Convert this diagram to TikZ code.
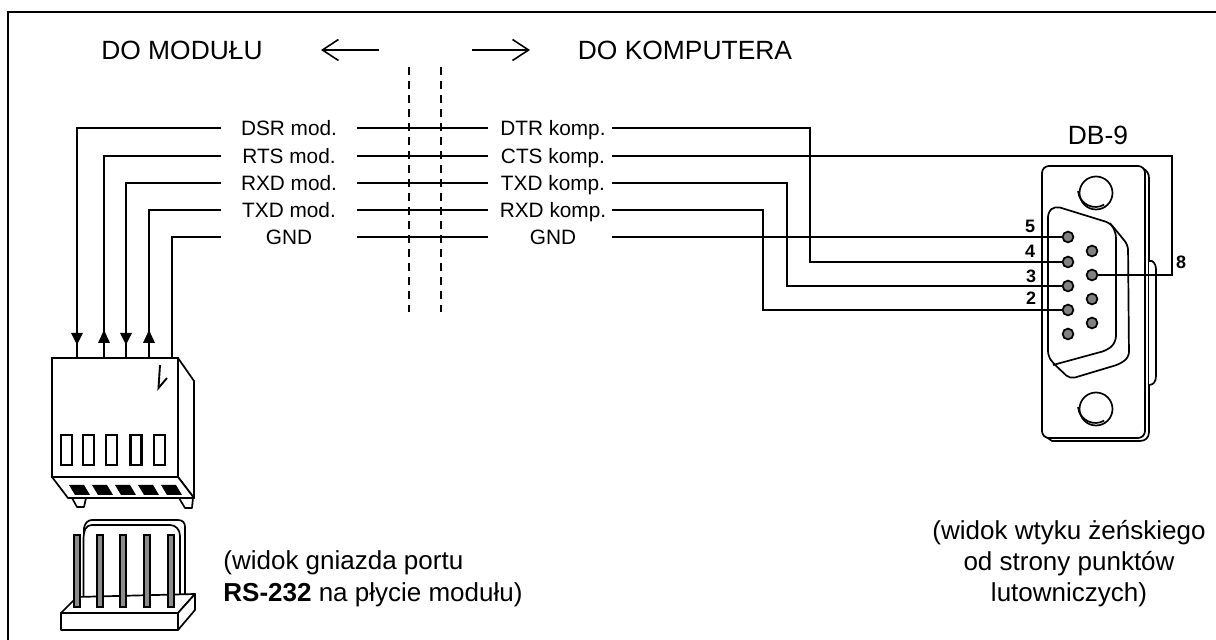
\documentclass[tikz,border=0pt]{standalone}
\usepackage{fontspec}
\setmainfont{Liberation Sans}
\usetikzlibrary{arrows.meta}
\tikzset{
  wire/.style={line width=0.8pt,line join=miter},
  lbl/.style={inner sep=0pt,text height=7.5pt,text depth=0pt,font=\fontsize{10.4}{12}\selectfont,anchor=center},
  big/.style={inner sep=0pt,font=\fontsize{13.2}{15}\selectfont},
  note/.style={inner sep=0pt,font=\fontsize{13}{15.5}\selectfont},
  num/.style={inner sep=0pt,font=\fontsize{9}{10}\selectfont\bfseries},
  pin/.style={circle,draw,line width=0.85pt,fill=black!50,inner sep=0pt,minimum size=5.4pt},
  part/.style={draw,line width=0.85pt,line join=round,fill=white},
  hpin/.style={draw,line width=0.75pt,fill=black!45},
  barb/.style={wire,-{Straight Barb[length=8pt,width=10.5pt]}}
}
\begin{document}
\begin{tikzpicture}[x=0.5pt,y=-0.5pt]
\useasboundingbox (0,0) rectangle (1216,640);
\draw[line width=1.1pt] (8,640) -- (8,12) -- (1216,12);
\node[big] (tmod) at (182,50) {DO MODUŁU};
\node[big] (tkomp) at (685,50) {DO KOMPUTERA};
\coordinate (al1) at (379,50); \coordinate (al2) at (321,50);
\coordinate (ar1) at (472,50); \coordinate (ar2) at (530,50);
\draw[barb] (al1) -- (al2);
\draw[barb] (ar1) -- (ar2);
\coordinate (d1a) at (409,67); \coordinate (d1b) at (409,312);
\coordinate (d2a) at (441,67); \coordinate (d2b) at (441,312);
\draw[line width=0.7pt,dash pattern=on 4pt off 3pt] (d1a) -- (d1b);
\draw[line width=0.7pt,dash pattern=on 4pt off 3pt] (d2a) -- (d2b);
% labels
\foreach \n/\y/\a/\b in {1/128/DSR mod./DTR komp.,2/156/RTS mod./CTS komp.,3/183/RXD mod./TXD komp.,4/210/TXD mod./RXD komp.,5/237/GND/GND}{
  \node[lbl] (m\n) at (289,\y) {\a};
  \node[lbl] (k\n) at (553,\y) {\b};
  \draw[wire] ([xshift=34pt]m\n.center) -- ([xshift=-32.5pt]k\n.center);
}
% module connector
\draw[part] (178,358) -- (194,381) -- (194,498) -- (178,477) -- cycle;
\draw[part] (72,498) -- (77,507) -- (84,507) -- (86,498);
\draw[part] (179,498) -- (185,508) -- (192,508) -- (193,498);
\draw[part] (52,477) -- (68,498) -- (194,498) -- (178,477) -- cycle;
\node[draw,line width=0.9pt,fill=white,minimum width=63pt,minimum height=59.5pt,inner sep=0pt] (conn) at (115,417.5) {};
\foreach \x in {66.5,88.5,111.5,136,159.5}{\draw[line width=1.1pt] (\x-5.5,435) rectangle (\x+5.5,465);}
\foreach \x in {69,92,115,138,161}{\fill (\x,485) -- (\x+15,485) -- (\x+21,495) -- (\x+6,495) -- cycle;}
\draw[line width=0.95pt] (160,365) -- (158.5,388) -- (167,378);
% left wires
\coordinate (w1) at (77,358); \coordinate (w2) at (104,358); \coordinate (w3) at (126,358);
\coordinate (w4) at (149,358); \coordinate (w5) at (172,358);
\draw[wire] ([xshift=-34pt]m1.center) -| (w1);
\draw[wire] ([xshift=-34pt]m2.center) -| (w2);
\draw[wire] ([xshift=-34pt]m3.center) -| (w3);
\draw[wire] ([xshift=-34pt]m4.center) -| (w4);
\draw[wire] ([xshift=-34pt]m5.center) -| (w5);
\foreach \x in {77,126}{\fill (\x-6,333) -- (\x+6,333) -- (\x,345) -- cycle;}
\foreach \x in {104,149}{\fill (\x-6,343) -- (\x+6,343) -- (\x,330) -- cycle;}
% header
\draw[part] (84,600) -- (84,528) .. controls (85,523) and (88,520) .. (92,520) -- (178,520) .. controls (183,520) and (185,523) .. (185,527) -- (185,600) -- cycle;
\draw[part] (83.5,600) -- (83.5,540) .. controls (83.5,530) and (86,525) .. (92,525) -- (170,525) .. controls (176,525) and (180,530) .. (180,536) -- (180,600) -- cycle;
\draw[part] (61,613) -- (77,597) -- (195,594) -- (178,613) -- cycle;
\draw[part] (61,613) rectangle (178,630);
\draw[part] (178,613) -- (195,594) -- (195,610) -- (178,630) -- cycle;
\foreach \x in {77,100,123,147,171}{\draw[hpin] (\x-3,535) rectangle (\x+3,607);}
\node[note,anchor=base west] (t1) at (223,570) {(widok gniazda portu};
\node[note,anchor=base west] (t2) at (223,602) {\textbf{RS-232} na płycie modułu)};
\node[note,anchor=base] (t3) at (1069,540) {(widok wtyku żeńskiego};
\node[note,anchor=base] (t4) at (1069,571) {od strony punktów};
\node[note,anchor=base] (t5) at (1069,602) {lutowniczych)};
\node[big] (db) at (1098,135) {DB-9};
% DB9
\draw[part] (1142,168) .. controls (1147,170) and (1149,174) .. (1149,178) -- (1149,432) .. controls (1149,438) and (1145,441) .. (1140,441) -- (1052,441) -- (1045,436) -- cycle;
\draw[part] (1149,261) -- (1152,261) .. controls (1155,263) and (1156,266) .. (1156,270) -- (1156,376) .. controls (1156,382) and (1153,385) .. (1149,385);
\draw[part,rounded corners=3.5pt] (1042,166) rectangle (1145,438);
\draw[part] (1096,193) circle[radius=16.5];
\draw[line width=0.85pt] (1078,191) arc[start angle=175,end angle=60,radius=17.5];
\draw[part] (1096,409) circle[radius=16.5];
\draw[line width=0.85pt] (1078,407) arc[start angle=175,end angle=60,radius=17.5];
\draw[part,rounded corners=2.5pt] (1048,212) -- (1055,206) -- (1110,223) -- (1128,245) -- (1129,357) -- (1120,364) -- (1070,379) -- (1053,363) -- (1048,356) -- cycle;
\draw[line width=0.85pt,rounded corners=3pt] (1110,223) -- (1116,232) -- (1116,342) -- (1108,350) -- (1053,365);
\foreach \n/\x/\y in {a/1068/237,b/1068/262,c/1068/286,d/1068/310,e/1068/334,f/1092/251,g/1092/275,h/1092/299,i/1092/323}{\node[pin] (p\n) at (\x,\y) {};}
% connections
\draw[wire] ([xshift=29.5pt]k5.center) -- (pa);
\draw[wire] ([xshift=29.5pt]k1.center) -| (810,262) -- (pb);
\draw[wire] ([xshift=29.5pt]k3.center) -| (787,286) -- (pc);
\draw[wire] ([xshift=29.5pt]k4.center) -| (763,310) -- (pd);
\draw[wire] ([xshift=29.5pt]k2.center) -| (1172,275) -- (pg);
\node[num] (n5) at (1030,226) {5};
\node[num] (n4) at (1030,251) {4};
\node[num] (n3) at (1031,276) {3};
\node[num] (n2) at (1031,298) {2};
\node[num] (n8) at (1181,262) {8};
\end{tikzpicture}
\end{document}
